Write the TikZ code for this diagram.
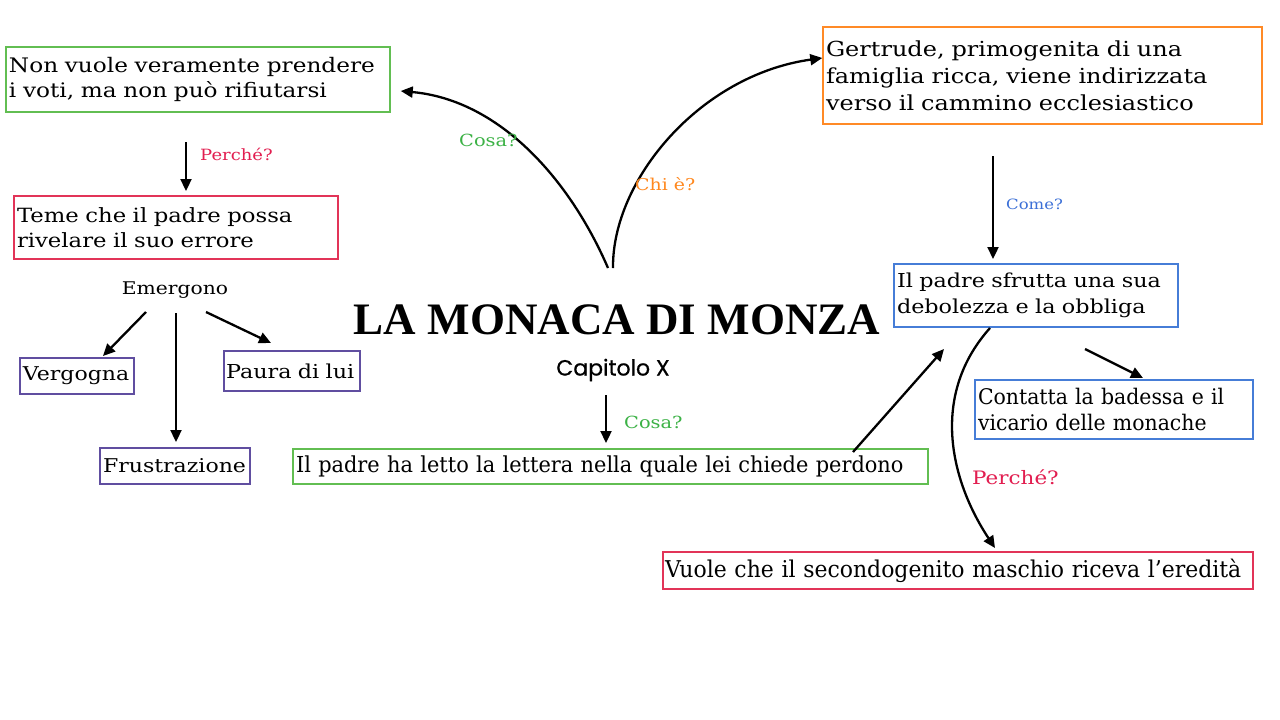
\documentclass[tikz,border=0pt]{standalone}
\usepackage{fontspec}
\setmainfont{DejaVu Serif}[FakeStretch=1.16]
\newfontfamily\condfont{DejaVu Serif}[FakeStretch=0.95]
\newfontfamily\titlefont{Liberation Serif}
\newfontfamily\capfont{Poppins}[FakeBold=0.8]
\usetikzlibrary{arrows.meta}
\definecolor{cgreen}{RGB}{98,190,82}
\definecolor{cred}{RGB}{226,52,88}
\definecolor{corange}{RGB}{255,138,38}
\definecolor{cblue}{RGB}{70,125,215}
\definecolor{cpurple}{RGB}{96,78,160}
\definecolor{lgreen}{RGB}{60,178,70}
\definecolor{lred}{RGB}{226,30,80}
\definecolor{lorange}{RGB}{255,136,30}
\definecolor{lblue}{RGB}{60,112,215}
\tikzset{
  boxed/.style={draw=#1, line width=1.5pt, inner sep=0pt, align=left},
  arr/.style={line width=2.3pt, -{Triangle[length=12pt,width=11pt]}},
  lab/.style={inner sep=0pt, anchor=west},
}
\begin{document}
\begin{tikzpicture}[x=1pt,y=-1pt]
\useasboundingbox[fill=white] (0,0) rectangle (1280,720);
% boxes
\node[boxed=cgreen, minimum width=384, minimum height=65, text width=378,
  font=\fontsize{20}{25.5}\selectfont] (A) at (198,79.5)
  {Non vuole veramente prendere\\i voti, ma non può rifiutarsi};
\node[boxed=cred, minimum width=324, minimum height=63, text width=318,
  font=\fontsize{19.6}{25.5}\selectfont] (B) at (176,227.5)
  {Teme che il padre possa\\rivelare il suo errore};
\node[inner sep=0pt, font=\fontsize{17.5}{22}\selectfont] (E) at (175,290) {Emergono};
\node[boxed=cpurple, minimum width=114, minimum height=36, text width=108,
  font=\fontsize{19}{24}\selectfont] (V) at (77,376) {Vergogna};
\node[boxed=cpurple, minimum width=136, minimum height=40, text width=132,
  font=\fontsize{19.2}{24}\selectfont] (P) at (292,371) {Paura di lui};
\node[boxed=cpurple, minimum width=150, minimum height=36, text width=144,
  font=\fontsize{19}{24}\selectfont] (F) at (175,466) {Frustrazione};
\node[inner sep=0pt, font=\fontsize{45}{50}\selectfont\titlefont\bfseries] (T) at (617,320) {LA MONACA DI MONZA};
\node[inner sep=0pt, font=\fontsize{22}{24}\selectfont\capfont] (C) at (613,370) {Capitolo X};
\node[boxed=cgreen, minimum width=635, minimum height=35, text width=629,
  font=\fontsize{22}{26}\selectfont\condfont] (L) at (610.5,466.5)
  {Il padre ha letto la lettera nella quale lei chiede perdono};
\node[boxed=corange, minimum width=439, minimum height=97, text width=433,
  font=\fontsize{20.7}{27}\selectfont] (G) at (1042.5,75.5)
  {Gertrude, primogenita di una\\famiglia ricca, viene indirizzata\\verso il cammino ecclesiastico};
\node[boxed=cblue, minimum width=284, minimum height=63, text width=278,
  font=\fontsize{19.2}{25.5}\selectfont] (S) at (1036,295.5)
  {Il padre sfrutta una sua\\debolezza e la obbliga};
\node[boxed=cblue, minimum width=278, minimum height=59, text width=272,
  font=\fontsize{21.5}{25.5}\selectfont\condfont] (K) at (1114,409.5)
  {Contatta la badessa e il\\vicario delle monache};
\node[boxed=cred, minimum width=590, minimum height=37, text width=586,
  font=\fontsize{23.1}{27}\selectfont\condfont] (R) at (958,570.5)
  {Vuole che il secondogenito maschio riceva l’eredità};
% free ends
\coordinate (a1) at (186,142); \coordinate (a2) at (186,191);
\coordinate (e1) at (146,312); \coordinate (e2) at (103,356);
\coordinate (e3) at (176,313); \coordinate (e4) at (176,442);
\coordinate (e5) at (206,312); \coordinate (e6) at (271,343);
\coordinate (c1) at (606,395); \coordinate (c2) at (606,443);
\coordinate (t1) at (608,268); \coordinate (t2) at (613,268);
\coordinate (g1) at (993,156); \coordinate (g2) at (993,259);
\coordinate (s1) at (1085,349); \coordinate (s2) at (1143,378);
\coordinate (s3) at (990,328); \coordinate (s4) at (995,548);
\coordinate (l1) at (853,452); \coordinate (l2) at (944,349);
% connectors
\draw[arr] (a1) -- (a2);
\draw[arr] (e1) -- (e2);
\draw[arr] (e3) -- (e4);
\draw[arr] (e5) -- (e6);
\draw[arr] (c1) -- (c2);
\draw[arr] (g1) -- (g2);
\draw[arr] (s1) -- (s2);
\draw[arr] (l1) -- (l2);
\draw[arr] (t1) .. controls (570,180) and (500,100) .. ([xshift=10pt]A.east |- 0,91);
\draw[arr] (t2) .. controls (612,180) and (700,75) .. (G.west |- 0,58);
\draw[arr] (s3) .. controls (930,395) and (950,480) .. (s4);
% labels
\node[lab, text=lred, font=\fontsize{15.5}{18}\selectfont] (q1) at (200,154) {Perché?};
\node[lab, text=lgreen, font=\fontsize{16.7}{22}\selectfont] (q2) at (459,140) {Cosa?};
\node[lab, text=lorange, font=\fontsize{16.3}{22}\selectfont] (q3) at (635,184) {Chi è?};
\node[lab, text=lblue, font=\fontsize{14.2}{18}\selectfont] (q4) at (1006,204) {Come?};
\node[lab, text=lgreen, font=\fontsize{16.7}{22}\selectfont] (q5) at (624,422) {Cosa?};
\node[lab, text=lred, font=\fontsize{18.5}{25}\selectfont] (q6) at (972,477) {Perché?};
\end{tikzpicture}
\end{document}
